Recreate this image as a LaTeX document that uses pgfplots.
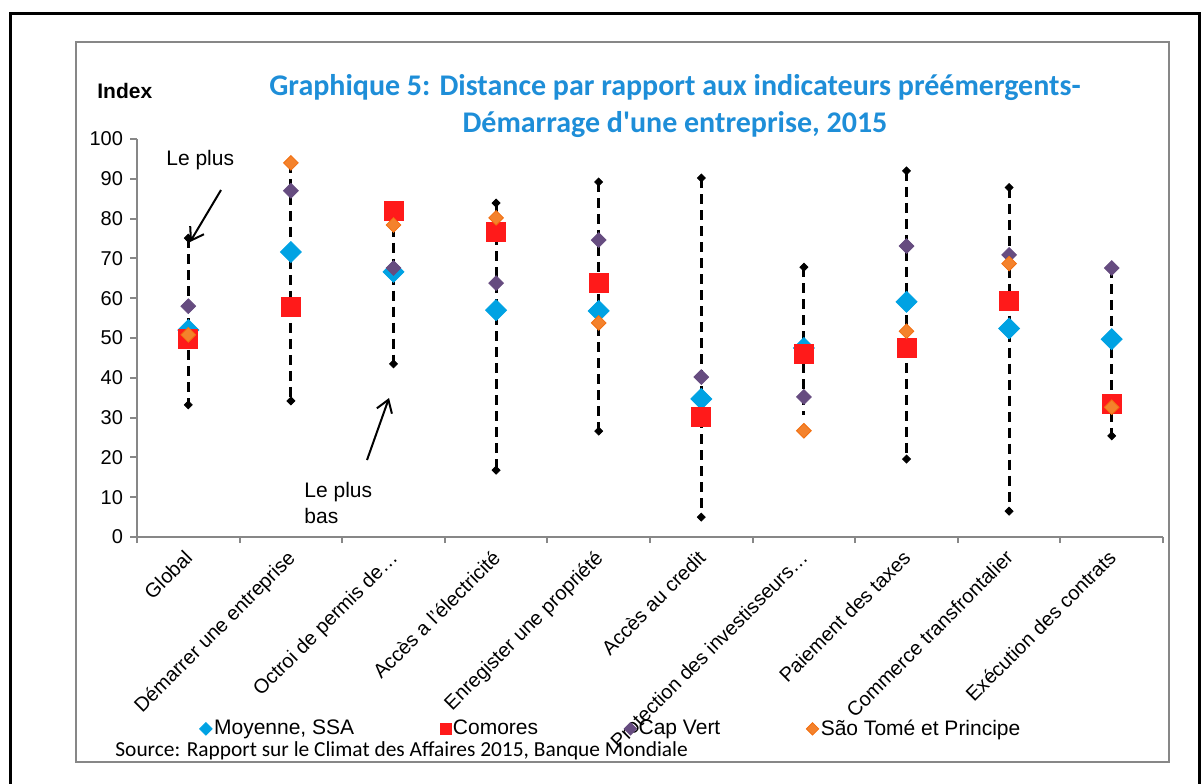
\documentclass[border=0pt]{standalone}
\usepackage{fontspec}
\setmainfont{Liberation Sans}
\newfontfamily\calibri{Carlito}
\usepackage{pgfplots}
\usepackage{pgfplotstable}
\pgfplotsset{compat=1.18}
\usetikzlibrary{arrows.meta}
\definecolor{ssa}{HTML}{00A2E3}
\definecolor{com}{HTML}{FF1A1A}
\definecolor{cv}{HTML}{664C80}
\definecolor{stp}{HTML}{F4822C}
\definecolor{stpd}{HTML}{F26F10}
\definecolor{titre}{HTML}{1E8ED8}
\definecolor{axgris}{HTML}{878787}

% valeurs (index 0-100)
\pgfplotstableread{
x ssa com cv stp
0 52.0 49.7 58.0 50.8
1 71.6 57.8 87.0 94.0
2 66.6 82.0 67.6 78.4
3 57.0 76.6 63.8 80.2
4 56.8 63.8 74.6 53.8
5 34.7 30.2 40.2 nan
6 47.5 46.0 35.2 26.7
7 59.1 47.4 73.1 51.7
8 52.4 59.2 70.9 68.7
9 49.7 33.4 67.6 32.6
}\data

\begin{document}
\begin{tikzpicture}
\begin{scope}[x=0.5pt,y=-0.5pt]
\useasboundingbox (0,0) rectangle (1202,783);
\draw[black,line width=1.5pt] (10,800) -- (10,13) -- (1199,13) -- (1199,800);
\draw[axgris,line width=1pt] (76,42) rectangle (1169,762);
\node[font=\calibri\bfseries\fontsize{15}{18}\selectfont,text=titre] at (675,88) {Graphique 5: Distance par rapport aux indicateurs préémergents-};
\node[font=\calibri\bfseries\fontsize{15}{18}\selectfont,text=titre] at (675,125) {Démarrage d'une entreprise, 2015};
\node[font=\bfseries\fontsize{10.5}{12}\selectfont,anchor=west,inner sep=0pt] at (97,91) {Index};
\node[font=\fontsize{10.5}{12}\selectfont,anchor=west,inner sep=0pt] at (166,160) {Le plus};
\node[font=\fontsize{10.5}{12}\selectfont,anchor=west,inner sep=0pt] at (304,492) {Le plus};
\node[font=\fontsize{10.5}{12}\selectfont,anchor=west,inner sep=0pt] at (304,516) {bas};
\draw[line width=1pt,-{Straight Barb[length=6pt,width=8pt]}] (221,190) -- (190,242);
\draw[line width=1pt,-{Straight Barb[length=6pt,width=8pt]}] (367,460) -- (389,398);
\node[font=\calibri\fontsize{10.7}{12}\selectfont,anchor=west,inner sep=0pt] at (115,751) {Source: Rapport sur le Climat des Affaires 2015, Banque Mondiale};
\end{scope}

\begin{axis}[at={(68.5pt,-268.5pt)},anchor=south west,scale only axis,width=513pt,height=199pt,
 xmin=-0.5,xmax=9.5,ymin=0,ymax=100,clip=false,
 axis lines=left,axis line style={-,draw=axgris,line width=1pt},
 ytick={0,10,...,100},xtick={0,...,9},minor xtick={-0.5,0.5,...,9.5},
 tick align=outside,major tick length=3.5pt,minor tick length=3pt,
 tick style={draw=axgris,line width=1pt},major x tick style={draw=none},
 /pgf/number format/assume math mode=true,
 yticklabel style={font=\fontsize{10}{12}\selectfont},
 xticklabels={Global,Démarrer une entreprise,Octroi de permis de…,Accès a l'électricité,Enregister une propriété,Accès au credit,Protection des investisseurs…,Paiement des taxes,Commerce transfrontalier,Exécution des contrats},
 xticklabel style={font=\fontsize{10}{12}\selectfont,xshift=-2.5pt,yshift=-2.2pt,rotate=45,anchor=north east,inner sep=0pt},
 legend columns=-1,
 legend style={draw=none,fill=none,at={(0.462,-0.482)},anchor=center,font=\fontsize{10.5}{12}\selectfont,
  nodes={inner sep=1pt},/tikz/every even column/.append style={column sep=42pt}},
 legend image code/.code={\draw[#1] plot coordinates {(0.1cm,0cm)};},
 legend image post style={mark size=2.2pt}]
% lignes plus haut / plus bas
\addplot[black,line width=1.5pt,dash pattern=on 5pt off 3pt,unbounded coords=jump,forget plot] coordinates {
(0,75.1)(0,33.2)(0,nan)
(1,94.0)(1,34.2)(1,nan)
(2,82.0)(2,43.5)(2,nan)
(3,83.9)(3,16.8)(3,nan)
(4,89.2)(4,26.6)(4,nan)
(5,90.2)(5,5.0)(5,nan)
(6,67.8)(6,30.6)(6,nan)
(7,92.0)(7,19.6)(7,nan)
(8,87.8)(8,6.5)(8,nan)
(9,67.6)(9,25.4)};
\addplot[only marks,black,mark=square*,mark size=1.4pt,mark options={rotate=45},forget plot] coordinates {
(0,75.1)(0,33.2)(1,34.2)(2,43.5)(3,83.9)(3,16.8)(4,89.2)(4,26.6)(5,90.2)(5,5.0)
(6,67.8)(7,92.0)(7,19.6)(8,87.8)(8,6.5)(9,25.4)};
\addplot[only marks,color=ssa,mark=square*,mark size=3.7pt,mark options={rotate=45}] table[x=x,y=ssa]{\data};
\addlegendentry{Moyenne, SSA}
\addplot[only marks,color=com,mark=square*,mark size=4.75pt,legend image post style={mark size=2.7pt}] table[x=x,y=com]{\data};
\addlegendentry{Comores}
\addplot[only marks,color=cv,mark=square*,mark size=2.6pt,mark options={rotate=45}] table[x=x,y=cv]{\data};
\addlegendentry{Cap Vert}
\addplot[only marks,color=stpd,mark=square*,mark size=2.6pt,mark options={rotate=45,fill=stp}] table[x=x,y=stp]{\data};
\addlegendentry{São Tomé et Principe}
\end{axis}
\end{tikzpicture}
\end{document}
